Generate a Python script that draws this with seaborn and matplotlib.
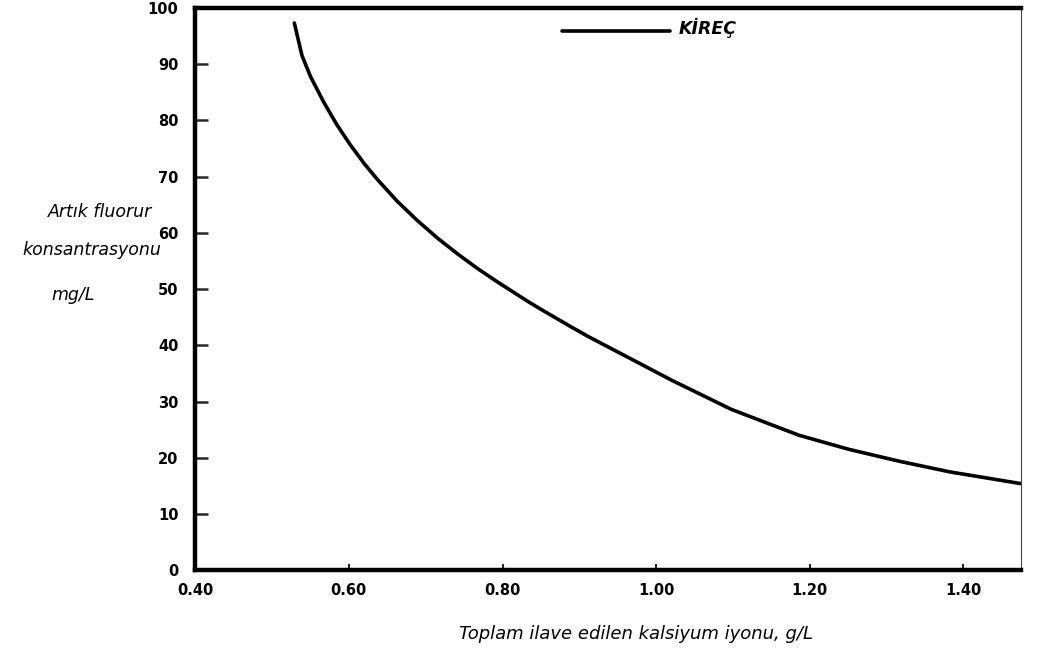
import matplotlib
matplotlib.use("Agg")
import matplotlib.pyplot as plt
import seaborn as sns
import pandas as pd

# values
calcium = [0.529, 0.539, 0.550, 0.567, 0.584, 0.601, 0.620, 0.637, 0.663, 0.689,
           0.715, 0.741, 0.767, 0.793, 0.833, 0.850, 0.889, 0.911, 0.967, 1.020,
           1.098, 1.186, 1.251, 1.316, 1.382, 1.475]
fluoride = [97.3, 91.5, 87.8, 83.3, 79.3, 75.8, 72.3, 69.5, 65.6, 62.2,
            59.1, 56.3, 53.7, 51.3, 47.8, 46.4, 43.3, 41.6, 37.6, 33.8,
            28.6, 24.0, 21.5, 19.4, 17.5, 15.4]
x_ticks = [0.40, 0.60, 0.80, 1.00, 1.20, 1.40]
x_labels = ["0.40", "0.60", "0.80", "1.00", "1.20", "1.40"]
y_ticks = list(range(0, 101, 10))
series_name = "KİREÇ"

df = pd.DataFrame({"calcium": calcium, "fluoride": fluoride})

sns.set_theme(style="white")
plt.rcParams["font.family"] = ["DejaVu Sans"]

fig = plt.figure(figsize=(10.44, 6.51), dpi=100)
ax = fig.add_axes([0.187, 0.124, 0.791, 0.864])

sns.lineplot(data=df, x="calcium", y="fluoride", color="black", linewidth=2.6,
             label=series_name, ax=ax)

ax.set_xlim(0.40, 1.475)
ax.set_ylim(0, 100)
ax.set_xticks(x_ticks)
ax.set_xticklabels(x_labels)
ax.set_yticks(y_ticks)

for side in ["left", "top", "bottom"]:
    ax.spines[side].set_linewidth(3.2)
    ax.spines[side].set_color("black")
ax.spines["right"].set_linewidth(0.8)
ax.spines["right"].set_color("#444444")

ax.tick_params(axis="y", direction="in", length=9, width=1.8, pad=12,
               labelsize=10.5, left=True, labelcolor="black")
ax.tick_params(axis="x", direction="in", length=4, width=1.5, pad=9,
               labelsize=10.5, bottom=True, labelcolor="black")
for lab in ax.get_xticklabels() + ax.get_yticklabels():
    lab.set_fontweight("bold")

ax.set_xlabel("Toplam ilave edilen kalsiyum iyonu, g/L", fontsize=13,
              fontstyle="italic", color="black")
ax.xaxis.set_label_coords(0.534, -0.098)
ax.set_ylabel("")

ylab_style = dict(ha="center", va="center", fontsize=12.5,
                  fontstyle="italic", color="black")
fig.text(0.096, 0.674, "Artık fluorur", **ylab_style)
fig.text(0.088, 0.616, "konsantrasyonu", **ylab_style)
fig.text(0.070, 0.547, "mg/L", **ylab_style)

leg = ax.legend(loc="center left", bbox_to_anchor=(0.444, 0.958), frameon=False,
                handlelength=6.2, handletextpad=0.5, borderpad=0, borderaxespad=0,
                prop={"size": 12.5, "style": "italic", "weight": "bold"})
for t in leg.get_texts():
    t.set_color("black")
    t.set_va("bottom")

fig.savefig("out.png", dpi=100)
